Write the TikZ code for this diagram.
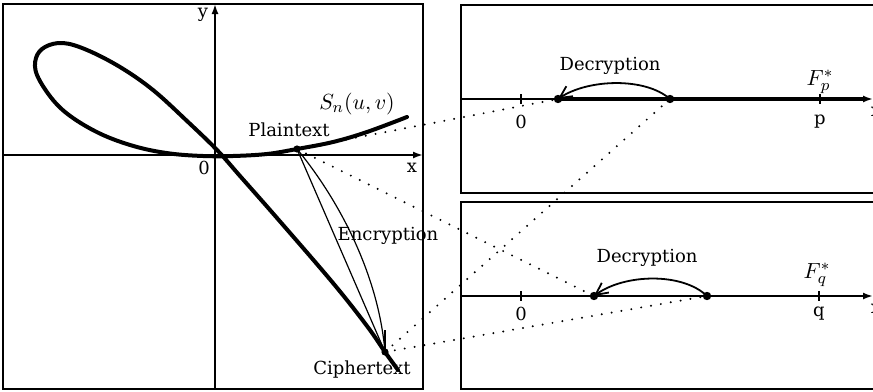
\documentclass[tikz,border=0pt]{standalone}
\usepackage{fontspec}
\setmainfont{DejaVu Serif}
\usetikzlibrary{arrows.meta}
\begin{document}
\begin{tikzpicture}[x=0.5pt,y=-0.5pt,
  lbl/.style={inner sep=0pt, font=\fontsize{9}{10}\selectfont},
  mlbl/.style={inner sep=0pt, font=\fontsize{11}{12}\selectfont},
  frame/.style={line width=1pt},
  axis/.style={line width=0.9pt, -{Latex[length=5pt,width=3.5pt]}},
  curvestyle/.style={line width=2pt, line join=round, line cap=round},
  thinline/.style={line width=0.6pt},
  dots/.style={line width=1.1pt, line cap=round, dash pattern=on 0pt off 5pt},
  bigdot/.style={circle, fill, inner sep=0pt, minimum size=4.2pt},
  smalldot/.style={circle, fill, inner sep=0pt, minimum size=3.6pt},
  dec/.style={line width=0.9pt, -{Straight Barb[length=6pt,width=6pt]}},
  tick/.style={line width=0.8pt},
]
\useasboundingbox (0,0) rectangle (873,391);

% ---------- left panel ----------
\draw[frame] (3,4) rectangle (423,389);
\draw[axis] (3,155) -- (423,155);
\draw[axis] (215,389) -- (215,4);
\node[lbl] (ylab) at (203,15) {y};
\node[lbl] (xlab) at (412,168) {x};
\node[lbl] (olab) at (204,168) {0};

\draw[curvestyle] plot[smooth, tension=0.6] coordinates {
 (398,370) (385,352) (367,326) (333,283) (277,218) (240,176) (217,150)
 (187,121) (153,90) (120,67) (87,50) (63,43) (45,47) (36,58)
 (37,75) (53,100) (73,118) (103,135) (137,147) (170,153.5) (203,156)
 (233,156) (267,154) (297,149) (333,142) (367,132) (407,117)};

\node[smalldot] (P) at (297,149) {};
\node[smalldot] (C) at (385,352) {};

\node[mlbl] (S) at (357,104) {$S_n(u,v)$};
\node[lbl] (plab) at (289,130) {Plaintext};
\node[lbl] (clab) at (362,370) {Ciphertext};

\draw[thinline] (P.center) -- (C.center);
\draw[thinline] (P.center) .. controls (335,195) and (378,270) .. (C.center);
\draw[thinline] (C.center) -- ++(0,-22);
\node[lbl] (enc) at (388,236) {Encryption};

% ---------- top right panel ----------
\draw[frame] (873,5) -- (461,5) -- (461,193) -- (873,193);
\draw[axis] (461,99) -- (873,99);
\node[bigdot] (A1) at (558,99) {};
\node[bigdot] (A2) at (670,99) {};
\draw[line width=1.6pt] (A1.center) -- (866,99);
\draw[tick] (521,94) -- (521,104);
\draw[tick] (820,94) -- (820,104);
\node[lbl] (a0) at (521,122) {0};
\node[lbl] (ap) at (820,122) {p};
\node[lbl] (ax) at (876,112) {x};
\node[mlbl] (Fp) at (820,82) {$F_p^*$};
\node[lbl] (dec1) at (610,66) {Decryption};
\draw[dec] (A2.center) .. controls (645,77) and (588,79) .. (A1.center);

% ---------- bottom right panel ----------
\draw[frame] (873,202) -- (461,202) -- (461,389) -- (873,389);
\draw[axis, line width=1.2pt] (461,296) -- (873,296);
\node[bigdot] (B1) at (594,296) {};
\node[bigdot] (B2) at (707,296) {};
\draw[tick] (521,291) -- (521,301);
\draw[tick] (819,291) -- (819,301);
\node[lbl] (b0) at (521,314) {0};
\node[lbl] (bq) at (819,314) {q};
\node[lbl] (bx) at (876,309) {x};
\node[mlbl] (Fq) at (817,275) {$F_q^*$};
\node[lbl] (dec2) at (647,258) {Decryption};
\draw[dec] (B2.center) .. controls (682,272) and (624,274) .. (B1.center);

% ---------- dotted connections ----------
\draw[dots] (P.center) -- (A1.center);
\draw[dots] (P.center) -- (B1.center);
\draw[dots] (C.center) -- (A2.center);
\draw[dots] (C.center) -- (B2.center);
\end{tikzpicture}
\end{document}
